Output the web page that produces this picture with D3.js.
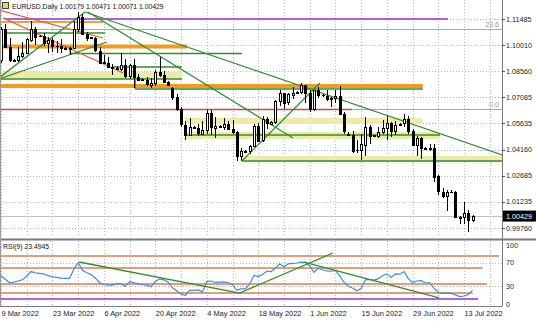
<!DOCTYPE html>
<html>
<head>
<meta charset="utf-8">
<script src="https://cdn.jsdelivr.net/npm/d3@7"></script>
<style>
    body { margin: 0; background: #fff; }
    svg { display: block; }
    text { font-family: "Liberation Sans", Arial, sans-serif; }
</style>
</head>
<body>
<svg width="536" height="321"></svg>
<script>
// EURUSD daily bars, 9 Mar 2022 .. 15 Jul 2022 (broker shows short Sunday bars)
var opens = [1.0915, 1.1090, 1.0990, 1.0915, 1.0918, 1.0940, 1.0955, 1.1035, 1.1095, 1.1050,
    1.1052, 1.1015, 1.1030, 1.0995, 1.0995, 1.0985, 1.0980, 1.0985, 1.1090, 1.1160,
    1.1065, 1.1045, 1.1040, 1.0970, 1.0905, 1.0900, 1.0880, 1.0875, 1.0870, 1.0890,
    1.0830, 1.0890, 1.0825, 1.0810, 1.0805, 1.0780, 1.0790, 1.0850, 1.0835, 1.0795,
    1.0760, 1.0710, 1.0645, 1.0555, 1.0498, 1.0543, 1.0535, 1.0505, 1.0525, 1.0620,
    1.0540, 1.0550, 1.0545, 1.0560, 1.0530, 1.0515, 1.0380, 1.0410, 1.0405, 1.0435,
    1.0550, 1.0465, 1.0585, 1.0560, 1.0570, 1.0690, 1.0735, 1.0680, 1.0725, 1.0735,
    1.0740, 1.0780, 1.0735, 1.0645, 1.0750, 1.0720, 1.0718, 1.0700, 1.0705, 1.0715,
    1.0615, 1.0505, 1.0500, 1.0410, 1.0412, 1.0445, 1.0545, 1.0495, 1.0490, 1.0515,
    1.0535, 1.0565, 1.0520, 1.0555, 1.0560, 1.0585, 1.0520, 1.0440, 1.0480, 1.0425,
    1.0420, 1.0425, 1.0265, 1.0180, 1.0160, 1.0180, 1.0178, 1.0040, 1.0035, 1.0060,
    1.00179];
var highs = [1.1105, 1.1121, 1.1040, 1.0925, 1.0990, 1.1020, 1.1040, 1.1135, 1.1105, 1.1060,
    1.1070, 1.1045, 1.1040, 1.1025, 1.1035, 1.0990, 1.0990, 1.1135, 1.1185, 1.1175,
    1.1075, 1.1050, 1.1045, 1.0990, 1.0945, 1.0935, 1.0895, 1.0885, 1.0955, 1.0925,
    1.0895, 1.0925, 1.0840, 1.0815, 1.0825, 1.0815, 1.0860, 1.0935, 1.0855, 1.0800,
    1.0765, 1.0725, 1.0655, 1.0575, 1.0595, 1.0548, 1.0560, 1.0575, 1.0640, 1.0640,
    1.0600, 1.0555, 1.0595, 1.0575, 1.0580, 1.0520, 1.0425, 1.0415, 1.0440, 1.0560,
    1.0565, 1.0605, 1.0600, 1.0575, 1.0695, 1.0750, 1.0735, 1.0735, 1.0765, 1.0745,
    1.0787, 1.0780, 1.0750, 1.0750, 1.0765, 1.0725, 1.0750, 1.0710, 1.0750, 1.0775,
    1.0625, 1.0515, 1.0520, 1.0470, 1.0505, 1.0600, 1.0555, 1.0500, 1.0545, 1.0580,
    1.0605, 1.0570, 1.0575, 1.0565, 1.0615, 1.0605, 1.0530, 1.0490, 1.0485, 1.0430,
    1.0445, 1.0445, 1.0275, 1.0200, 1.0190, 1.0190, 1.0185, 1.0045, 1.0120, 1.0075,
    1.00471];
var lows = [1.0900, 1.0985, 1.0905, 1.0905, 1.0910, 1.0930, 1.0950, 1.1020, 1.1005, 1.1045,
    1.0995, 1.0960, 1.0965, 1.0960, 1.0960, 1.0975, 1.0945, 1.0980, 1.1075, 1.1065,
    1.1025, 1.1035, 1.0965, 1.0900, 1.0895, 1.0875, 1.0835, 1.0865, 1.0855, 1.0820,
    1.0810, 1.0760, 1.0800, 1.0800, 1.0775, 1.0760, 1.0775, 1.0825, 1.0790, 1.0775,
    1.0695, 1.0635, 1.0545, 1.0470, 1.0490, 1.0530, 1.0490, 1.0495, 1.0505, 1.0495,
    1.0480, 1.0540, 1.0525, 1.0530, 1.0505, 1.0350, 1.0350, 1.0400, 1.0390, 1.0430,
    1.0460, 1.0460, 1.0530, 1.0555, 1.0560, 1.0660, 1.0645, 1.0665, 1.0700, 1.0730,
    1.0730, 1.0680, 1.0625, 1.0630, 1.0705, 1.0710, 1.0690, 1.0655, 1.0675, 1.0610,
    1.0505, 1.0495, 1.0395, 1.0395, 1.0360, 1.0380, 1.0445, 1.0485, 1.0480, 1.0505,
    1.0470, 1.0485, 1.0500, 1.0550, 1.0540, 1.0505, 1.0435, 1.0380, 1.0365, 1.0415,
    1.0410, 1.0235, 1.0160, 1.0145, 1.0070, 1.0175, 1.0035, 0.9999, 0.9998, 0.9952,
    1.00071];
var closes = [1.1090, 1.0990, 1.0915, 1.0918, 1.0940, 1.0955, 1.1035, 1.1095, 1.1050, 1.1052,
    1.1015, 1.1030, 1.0995, 1.0995, 1.0985, 1.0980, 1.0985, 1.1090, 1.1160, 1.1065,
    1.1045, 1.1040, 1.0970, 1.0905, 1.0900, 1.0880, 1.0875, 1.0870, 1.0890, 1.0830,
    1.0890, 1.0825, 1.0810, 1.0805, 1.0780, 1.0790, 1.0850, 1.0835, 1.0795, 1.0780,
    1.0710, 1.0645, 1.0560, 1.0500, 1.0543, 1.0535, 1.0505, 1.0525, 1.0620, 1.0540,
    1.0550, 1.0545, 1.0560, 1.0530, 1.0515, 1.0380, 1.0410, 1.0405, 1.0435, 1.0550,
    1.0465, 1.0585, 1.0560, 1.0570, 1.0690, 1.0735, 1.0680, 1.0725, 1.0735, 1.0740,
    1.0780, 1.0735, 1.0645, 1.0750, 1.0720, 1.0718, 1.0700, 1.0705, 1.0715, 1.0615,
    1.0520, 1.0500, 1.0410, 1.0412, 1.0445, 1.0545, 1.0495, 1.0490, 1.0515, 1.0535,
    1.0565, 1.0520, 1.0555, 1.0560, 1.0585, 1.0520, 1.0440, 1.0480, 1.0425, 1.0420,
    1.0425, 1.0265, 1.0180, 1.0160, 1.0180, 1.0178, 1.0040, 1.0035, 1.0060, 1.0020,
    1.00429];

// RSI(9), one value per bar
var rsiValues = [48, 42, 36, 37, 39, 41, 47, 55, 53, 52,
    51, 48, 46, 45, 44, 43.5, 43.5, 59, 70, 57,
    53, 50, 44, 36, 33, 32, 32, 34, 34, 30,
    38, 36, 34, 33, 32, 29, 38, 42.5, 41, 37,
    27.5, 22.5, 17, 14.5, 23, 23, 24, 20.5, 38, 39,
    36.5, 37, 37.5, 36, 32.5, 23.5, 25.5, 25.5, 34, 48.5,
    46.5, 50, 55.5, 55, 60.5, 68, 63, 68, 69, 69.5,
    71, 70.5, 64.5, 53.5, 60.5, 58, 56, 55.5, 57, 47.5,
    37, 30, 27, 22.5, 26, 41, 41.5, 40.5, 43, 48,
    51, 45, 51, 50.5, 55, 43, 36.5, 39, 39.5, 36,
    36, 27, 19.5, 18, 19, 18.5, 15.5, 12.5, 13.5, 16,
    23.4945];

var dateLabels = ["9 Mar 2022", "23 Mar 2022", "6 Apr 2022", "20 Apr 2022", "4 May 2022",
    "18 May 2022", "1 Jun 2022", "15 Jun 2022", "29 Jun 2022", "13 Jul 2022"];
var dateLabelBars = [0, 12, 24, 36, 48, 60, 72, 84, 96, 108];
var priceTicks = [1.11485, 1.10010, 1.08560, 1.07085, 1.05635, 1.04160, 1.02685, 1.01235, 0.99760];
var rsiTicks = [100, 70, 30, 0];

// drawn objects: [price, fromBar, toBar] / [topPrice, bottomPrice, fromBar, toBar] / [bar0, price0, bar1, price1]
var purpleLevels = [[1.11485, 0.9, 104.3]];
var orangeThin = [[1.11317, -0.5, 23.8]];
var orangeThick = [[1.09942, -0.5, 43.4], [1.07726, -0.5, 98.4]];
var redLevels = [[1.06408, -0.5, 81.9]];
var greenLevels = [[1.10700, 0.9, 24.3], [1.09550, 16.1, 56.2], [1.08792, 26.1, 42.2], [1.08119, -0.5, 42.2],
    [1.07558, 31.3, 98.4], [1.04977, 42.9, 102.4], [1.03519, 56.2, 120]];
var yellowZones = [[1.08512, 1.08119, -0.5, 42.2], [1.05931, 1.05595, 42.9, 98.2],
    [1.05145, 1.04753, 42.9, 102.4], [1.03799, 1.03463, 56.2, 120]];
var greenTrends = [[-0.5, 1.08175, 19.6, 1.11878], [-0.5, 1.08119, 24.7, 1.10195], [19.6, 1.11878, 116.9, 1.03855],
    [20.3, 1.11878, 68.1, 1.04809], [56.2, 1.03519, 74.4, 1.07895],
    [31.3, 1.08119, 31.3, 1.07558], [16.1, 1.09942, 16.1, 1.09550]];
var redTrends = [[-0.5, 1.11990, 23.8, 1.10419], [0.5, 1.11541, 28.5, 1.08456]];
var fibLevels = [{ label: "23.6", price: 1.10924 }, { label: "0.0", price: 1.06408 }];

var rsiLevels = [[81.4, 116.2], [61, 112.4], [33.9, 113.4], [18.6, 110]];
var rsiPurple = [[8.5, 111.3]];
var rsiTrends = [[18.2, 71.2, 55.7, 18.6], [55.7, 18.6, 77.4, 86.4], [70.7, 71, 102.2, 10.2]];

var svg = d3.select("svg"),
    plotRight = 502, mainBottom = 237, rsiTop = 241, rsiBottom = 306;

var bars = closes.map(function (c, i) {
    return { i: i, o: opens[i], h: highs[i], l: lows[i], c: c };
});

var x = d3.scaleLinear().domain([0, 108]).range([1, 464]);
var y = d3.scaleLinear().domain([0.99760, 1.11485]).range([228, 19]);
var ry = d3.scaleLinear().domain([0, 100]).range([304, 245]);

var defs = svg.append("defs");
defs.append("clipPath").attr("id", "clipMain").append("rect")
    .attr("x", 0).attr("y", 0).attr("width", plotRight).attr("height", mainBottom);
defs.append("clipPath").attr("id", "clipRsi").append("rect")
    .attr("x", 0).attr("y", rsiTop).attr("width", plotRight).attr("height", rsiBottom - rsiTop);

var main = svg.append("g").attr("clip-path", "url(#clipMain)");
var lower = svg.append("g").attr("clip-path", "url(#clipRsi)");

// grid
var gridBars = d3.range(0, 120, 6);
[main, lower].forEach(function (g, k) {
    g.append("g").selectAll("line").data(gridBars).enter().append("line")
        .attr("x1", d => Math.round(x(d)) + 0.5).attr("x2", d => Math.round(x(d)) + 0.5)
        .attr("y1", k ? rsiTop : 0).attr("y2", k ? rsiBottom : mainBottom)
        .attr("stroke", "#b8b8b8").attr("stroke-dasharray", "1,2");
});
main.append("g").selectAll("line").data(priceTicks).enter().append("line")
    .attr("x1", 0).attr("x2", plotRight)
    .attr("y1", d => Math.round(y(d)) + 0.5).attr("y2", d => Math.round(y(d)) + 0.5)
    .attr("stroke", "#b8b8b8").attr("stroke-dasharray", "1,2");
lower.append("g").selectAll("line").data([70, 30]).enter().append("line")
    .attr("x1", 0).attr("x2", plotRight)
    .attr("y1", d => Math.round(ry(d)) + 0.5).attr("y2", d => Math.round(ry(d)) + 0.5)
    .attr("stroke", "#b8b8b8").attr("stroke-dasharray", "1,2");

// zones and levels
main.append("g").selectAll("rect").data(yellowZones).enter().append("rect")
    .attr("x", d => x(d[2])).attr("width", d => x(d[3]) - x(d[2]))
    .attr("y", d => y(d[0])).attr("height", d => y(d[1]) - y(d[0]))
    .attr("fill", "#eeeaa8");

function levels(data, color, width) {
    main.append("g").selectAll("line").data(data).enter().append("line")
        .attr("x1", d => x(d[1])).attr("x2", d => x(d[2]))
        .attr("y1", d => y(d[0])).attr("y2", d => y(d[0]))
        .attr("stroke", color).attr("stroke-width", width);
}
function trends(g, data, yScale, color, width) {
    g.append("g").selectAll("line").data(data).enter().append("line")
        .attr("x1", d => x(d[0])).attr("y1", d => yScale(d[1]))
        .attr("x2", d => x(d[2])).attr("y2", d => yScale(d[3]))
        .attr("stroke", color).attr("stroke-width", width);
}

main.append("g").selectAll("line").data(fibLevels).enter().append("line")
    .attr("x1", 0).attr("x2", plotRight)
    .attr("y1", d => Math.round(y(d.price)) + 0.5).attr("y2", d => Math.round(y(d.price)) + 0.5)
    .attr("stroke", "#c9a47e");
main.append("g").selectAll("text").data(fibLevels).enter().append("text")
    .attr("x", plotRight - 3).attr("y", d => y(d.price) - 2)
    .attr("text-anchor", "end").attr("font-size", 7).attr("fill", "#b89470")
    .text(d => d.label);

levels(redLevels, "#c0503c", 1.5);
levels(orangeThick, "#f59a1b", 4);
levels(orangeThin, "#f0a040", 2);
levels(purpleLevels, "#9932cc", 1.5);
levels(greenLevels, "#2f8f2f", 1.3);
trends(main, redTrends, y, "#e2572f", 1.2);
trends(main, greenTrends, y, "#2f8f2f", 1.3);

// bid line
main.append("line")
    .attr("x1", 0).attr("x2", plotRight)
    .attr("y1", Math.round(y(closes[closes.length - 1])) + 0.5)
    .attr("y2", Math.round(y(closes[closes.length - 1])) + 0.5)
    .attr("stroke", "#c0c0c0");

// candles
var candle = main.append("g").attr("shape-rendering", "crispEdges")
    .selectAll("g").data(bars).enter().append("g");
candle.append("line")
    .attr("x1", d => Math.round(x(d.i)) + 0.5).attr("x2", d => Math.round(x(d.i)) + 0.5)
    .attr("y1", d => y(d.h)).attr("y2", d => y(d.l))
    .attr("stroke", "#000");
candle.append("rect")
    .attr("x", d => Math.round(x(d.i)) - 0.5).attr("width", 2)
    .attr("y", d => Math.round(y(Math.max(d.o, d.c))) + 0.5)
    .attr("height", d => Math.max(0.01, Math.round(Math.abs(y(d.o) - y(d.c)))))
    .attr("fill", d => d.c >= d.o ? "#fff" : "#000")
    .attr("stroke", "#000");

// RSI panel
lower.append("g").selectAll("line").data(rsiLevels).enter().append("line")
    .attr("x1", x(-0.5)).attr("x2", d => x(d[1]))
    .attr("y1", d => ry(d[0])).attr("y2", d => ry(d[0]))
    .attr("stroke", "#dc7d4c").attr("stroke-width", 1.6);
lower.append("g").selectAll("line").data(rsiPurple).enter().append("line")
    .attr("x1", x(-0.5)).attr("x2", d => x(d[1]))
    .attr("y1", d => ry(d[0])).attr("y2", d => ry(d[0]))
    .attr("stroke", "#9932cc").attr("stroke-width", 1.6);
lower.append("path")
    .datum(rsiValues)
    .attr("fill", "none").attr("stroke", "#3b8ede").attr("stroke-width", 1.2)
    .attr("d", d3.line().x((d, i) => x(i)).y(d => ry(d)));
trends(lower, rsiTrends, ry, "#2f8f2f", 1.3);

// frame
svg.append("line").attr("x1", 0).attr("x2", 536).attr("y1", 239.5).attr("y2", 239.5)
    .attr("stroke", "#7a7a7a").attr("stroke-width", 2);
svg.append("line").attr("x1", plotRight + 0.5).attr("x2", plotRight + 0.5).attr("y1", 0).attr("y2", rsiBottom)
    .attr("stroke", "#7a7a7a");
svg.append("line").attr("x1", 0).attr("x2", plotRight).attr("y1", rsiBottom + 0.5).attr("y2", rsiBottom + 0.5)
    .attr("stroke", "#7a7a7a");
svg.append("line").attr("x1", 0.5).attr("x2", 0.5).attr("y1", 0).attr("y2", rsiBottom)
    .attr("stroke", "#9a9a9a");

// price axis
var pAxis = svg.append("g");
pAxis.selectAll("line").data(priceTicks).enter().append("line")
    .attr("x1", plotRight).attr("x2", plotRight + 3)
    .attr("y1", d => Math.round(y(d)) + 0.5).attr("y2", d => Math.round(y(d)) + 0.5)
    .attr("stroke", "#555");
pAxis.selectAll("text").data(priceTicks).enter().append("text")
    .attr("x", 506).attr("y", d => y(d) + 2.5)
    .attr("font-size", 7.2).attr("fill", "#222")
    .text(d => d.toFixed(5));

var last = closes[closes.length - 1];
svg.append("rect").attr("x", 503).attr("y", y(last) - 5.5).attr("width", 33).attr("height", 11).attr("fill", "#000");
svg.append("text").attr("x", 506).attr("y", y(last) + 2.5)
    .attr("font-size", 7.2).attr("fill", "#fff").text(last.toFixed(5));

// rsi axis
svg.append("g").selectAll("text").data(rsiTicks).enter().append("text")
    .attr("x", 506).attr("y", d => ry(d) + 2.5)
    .attr("font-size", 7.2).attr("fill", "#222")
    .text(d => d);

// date axis
svg.append("g").selectAll("text").data(dateLabels).enter().append("text")
    .attr("x", (d, i) => x(dateLabelBars[i]) + 0.5).attr("y", 316)
    .attr("font-size", 7.4).attr("fill", "#222")
    .text(d => d);

// titles
svg.append("rect").attr("x", 2.5).attr("y", 2.5).attr("width", 6).attr("height", 6)
    .attr("fill", "#f2d24a").attr("stroke", "#444");
svg.append("text").attr("x", 12).attr("y", 8.5).attr("font-size", 6.8).attr("fill", "#111")
    .text("EURUSD,Daily  " + [opens, highs, lows, closes].map(a => a[a.length - 1].toFixed(5)).join(" "));
svg.append("text").attr("x", 3).attr("y", 249).attr("font-size", 6.8).attr("fill", "#111")
    .text("RSI(9) " + rsiValues[rsiValues.length - 1].toFixed(4));
</script>
</body>
</html>
